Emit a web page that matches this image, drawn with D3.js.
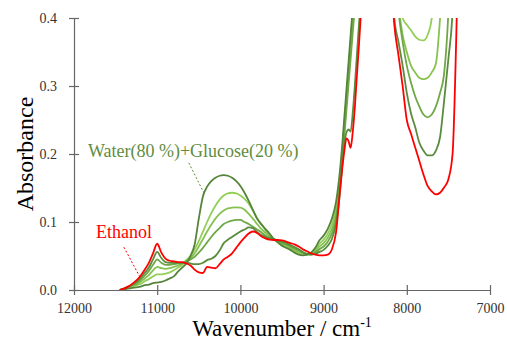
<!DOCTYPE html>
<html>
<head>
<meta charset="utf-8">
<script src="https://cdn.jsdelivr.net/npm/d3@7"></script>
<style>
  body { margin: 0; background: #fff; }
  .axis path, .axis line { stroke: #666; stroke-width: 1.2px; }
  .axis text { font-size: 14px; fill: #333; }
</style>
</head>
<body>
<div id="chart"></div>
<script>

var serif = "'Liberation Serif', 'Times New Roman', 'DejaVu Serif', serif";

// wavenumber grid (cm-1), shared by every spectrum
var wavenumber = [
  11450, 11400, 11350, 11300, 11250, 11200, 11150, 11100, 11050, 11000,
  10950, 10900, 10850, 10800, 10750, 10700, 10650, 10600, 10550, 10500,
  10450, 10400, 10350, 10300, 10250, 10200, 10150, 10100, 10050, 10000,
  9950, 9900, 9850, 9800, 9750, 9700, 9650, 9600, 9550, 9500,
  9450, 9400, 9350, 9300, 9250, 9200, 9150, 9100, 9050, 9000,
  8950, 8900, 8850, 8800,
  8775, 8750, 8725, 8700, 8675, 8650, 8625, 8600, 8575, 8550,
  8500, 8400, 8300, 8200,
  8150, 8100, 8050, 8000, 7950, 7900, 7850, 7800, 7750,
  7700, 7650, 7600, 7550, 7500, 7450, 7400, 7350
];

// Water(80 %)+Glucose(20 %)
var glucose = [
  0, 0.001, 0.002, 0.003, 0.004, 0.005, 0.007, 0.008, 0.010, 0.011,
  0.012, 0.014, 0.017, 0.020, 0.027, 0.033, 0.039, 0.050, 0.067, 0.105,
  0.138, 0.152, 0.160, 0.165, 0.168, 0.169, 0.168, 0.165, 0.160, 0.153,
  0.143, 0.131, 0.118, 0.105, 0.097, 0.090, 0.083, 0.075, 0.070, 0.065,
  0.062, 0.059, 0.055, 0.052, 0.051, 0.052, 0.055, 0.062, 0.073, 0.080,
  0.090, 0.105, 0.130, 0.180,
  0.215, 0.255, 0.295, 0.335, 0.375, 0.415, 0.455, 0.495, 0.535, 0.575,
  0.65, 0.8, 0.8, 0.7,
  0.60, 0.52, 0.47, 0.45, 0.44, 0.43, 0.425, 0.424, 0.43,
  0.44, 0.46, 0.48, 0.55, 0.70, 0.85, 1.0, 1.0
];

// intermediate mixtures, from glucose-rich to ethanol-rich
var mix1 = [
  0, 0.001, 0.003, 0.005, 0.007, 0.009, 0.013, 0.016, 0.020, 0.023,
  0.023, 0.024, 0.026, 0.029, 0.033, 0.037, 0.044, 0.050, 0.060, 0.072,
  0.086, 0.100, 0.113, 0.124, 0.133, 0.139, 0.142, 0.143, 0.142, 0.139,
  0.134, 0.127, 0.117, 0.106, 0.097, 0.088, 0.080, 0.075, 0.070, 0.066,
  0.063, 0.060, 0.057, 0.054, 0.053, 0.052, 0.054, 0.059, 0.068, 0.074,
  0.083, 0.097, 0.122, 0.172,
  0.205, 0.245, 0.285, 0.325, 0.365, 0.405, 0.445, 0.485, 0.525, 0.565,
  0.62, 0.75, 0.75, 0.65,
  0.55, 0.46, 0.40, 0.39, 0.382, 0.373, 0.368, 0.367, 0.375,
  0.40, 0.50, 0.60, 0.70, 0.80, 0.90, 1.0, 1.0
];

var mix2 = [
  0, 0.001, 0.003, 0.006, 0.008, 0.012, 0.017, 0.022, 0.029, 0.034,
  0.032, 0.031, 0.032, 0.034, 0.036, 0.039, 0.043, 0.047, 0.054, 0.064,
  0.075, 0.086, 0.096, 0.105, 0.112, 0.117, 0.120, 0.121, 0.1215, 0.121,
  0.118, 0.112, 0.105, 0.097, 0.090, 0.084, 0.079, 0.075, 0.071, 0.068,
  0.065, 0.062, 0.059, 0.056, 0.054, 0.052, 0.053, 0.057, 0.064, 0.069,
  0.077, 0.090, 0.114, 0.164,
  0.197, 0.237, 0.275, 0.315, 0.355, 0.395, 0.435, 0.475, 0.515, 0.555,
  0.60, 0.72, 0.72, 0.60,
  0.50, 0.42, 0.375, 0.350, 0.330, 0.320, 0.312, 0.310, 0.312,
  0.320, 0.333, 0.400, 0.50, 0.60, 0.70, 0.80, 0.90
];

var mix3 = [
  0, 0.002, 0.004, 0.007, 0.010, 0.015, 0.021, 0.028, 0.037, 0.045,
  0.040, 0.037, 0.037, 0.038, 0.039, 0.040, 0.042, 0.045, 0.049, 0.055,
  0.062, 0.070, 0.078, 0.085, 0.091, 0.097, 0.100, 0.102, 0.103, 0.103,
  0.100, 0.097, 0.093, 0.089, 0.085, 0.080, 0.077, 0.075, 0.072, 0.069,
  0.067, 0.064, 0.061, 0.058, 0.055, 0.053, 0.052, 0.055, 0.060, 0.064,
  0.071, 0.083, 0.106, 0.156,
  0.190, 0.228, 0.265, 0.303, 0.340, 0.378, 0.415, 0.455, 0.495, 0.535,
  0.58, 0.70, 0.70, 0.58,
  0.48, 0.41, 0.365, 0.330, 0.305, 0.285, 0.270, 0.258, 0.254,
  0.258, 0.270, 0.290, 0.320, 0.410, 0.60, 0.80, 0.90
];

var mix4 = [
  0, 0.002, 0.005, 0.008, 0.012, 0.018, 0.025, 0.033, 0.045, 0.056,
  0.047, 0.041, 0.040, 0.040, 0.040, 0.040, 0.040, 0.039, 0.038, 0.038,
  0.040, 0.044, 0.046, 0.050, 0.058, 0.069, 0.074, 0.078, 0.082, 0.086,
  0.089, 0.092, 0.091, 0.085, 0.081, 0.078, 0.076, 0.075, 0.073, 0.071,
  0.069, 0.066, 0.063, 0.060, 0.056, 0.053, 0.052, 0.053, 0.056, 0.059,
  0.065, 0.075, 0.098, 0.148,
  0.185, 0.215, 0.232, 0.236, 0.233, 0.260, 0.300, 0.345, 0.390, 0.430,
  0.55, 0.68, 0.68, 0.52,
  0.400, 0.365, 0.330, 0.290, 0.260, 0.240, 0.217, 0.205, 0.198,
  0.198, 0.205, 0.225, 0.280, 0.340, 0.410, 0.60, 0.80
];

// Ethanol
var ethanol = [
  0, 0.002, 0.005, 0.009, 0.014, 0.021, 0.030, 0.040, 0.054, 0.068,
  0.055, 0.046, 0.043, 0.042, 0.041, 0.041, 0.039, 0.036, 0.030, 0.026,
  0.025, 0.034, 0.033, 0.032, 0.038, 0.045, 0.049, 0.054, 0.062, 0.070,
  0.077, 0.083, 0.086, 0.084, 0.079, 0.076, 0.074, 0.0735, 0.0735, 0.073,
  0.071, 0.069, 0.067, 0.064, 0.060, 0.057, 0.054, 0.052, 0.051, 0.051,
  0.052, 0.060, 0.085, 0.150,
  0.180, 0.205, 0.223, 0.219, 0.209, 0.232, 0.268, 0.315, 0.360, 0.410,
  0.50, 0.65, 0.65, 0.48,
  0.390, 0.345, 0.300, 0.250, 0.230, 0.210, 0.190, 0.170, 0.153,
  0.145, 0.1405, 0.143, 0.151, 0.163, 0.200, 0.400, 0.700
];

var series = [
  { name: "mix1", values: mix1, color: "#93cf58" },
  { name: "mix2", values: mix2, color: "#86c24f" },
  { name: "mix3", values: mix3, color: "#6fa846" },
  { name: "mix4", values: mix4, color: "#5a8c3d" },
  { name: "glucose", values: glucose, color: "#55843a" },
  { name: "ethanol", values: ethanol, color: "#ff0000" }
];

var yTicks = [0, 0.1, 0.2, 0.3, 0.4];
var xTicks = [12000, 11000, 10000, 9000, 8000, 7000];

var width = 507, height = 340;
var svg = d3.select("#chart").append("svg")
    .attr("width", width)
    .attr("height", height);

var x = d3.scaleLinear().domain([12000, 7000]).range([74, 490]);
var y = d3.scaleLinear().domain([0, 0.4]).range([290, 18]);

svg.append("clipPath").attr("id", "plot")
  .append("rect")
    .attr("x", x(12000)).attr("y", y(0.4))
    .attr("width", x(7000) - x(12000))
    .attr("height", y(0) - y(0.4));

// axes, ticks crossing the line
var yAxis = svg.append("g")
    .attr("class", "axis")
    .attr("transform", "translate(" + x(12000) + ",0)")
    .call(d3.axisLeft(y).tickValues(yTicks).tickFormat(d3.format(".1f"))
      .tickSizeInner(5).tickSizeOuter(0).tickPadding(12));
yAxis.selectAll(".tick line").attr("x1", 5);

var xAxis = svg.append("g")
    .attr("class", "axis")
    .attr("transform", "translate(0," + y(0) + ")")
    .call(d3.axisBottom(x).tickValues(xTicks).tickFormat(d3.format("d"))
      .tickSizeInner(5).tickSizeOuter(0).tickPadding(8));
xAxis.selectAll(".tick line").attr("y1", -5);
svg.selectAll(".axis").attr("font-family", serif).attr("font-size", 14);

var line = d3.line()
    .x(function(d) { return x(d[0]); })
    .y(function(d) { return y(d[1]); })
    .curve(d3.curveMonotoneX);

svg.append("g")
    .attr("clip-path", "url(#plot)")
  .selectAll("path")
  .data(series)
  .enter().append("path")
    .attr("fill", "none")
    .attr("stroke", function(d) { return d.color; })
    .attr("stroke-width", 1.8)
    .attr("stroke-linejoin", "round")
    .attr("d", function(d) {
      return line(wavenumber.map(function(w, i) { return [w, d.values[i]]; }));
    });

// labels with dotted leader lines (positions in data units)
var labels = [
  { text: "Water(80 %)+Glucose(20 %)", color: "#5f8c3f", at: [11832, 0.1956],
    from: [10620, 0.187], to: [10440, 0.143] },
  { text: "Ethanol", color: "#ff0000", at: [11736, 0.0765],
    from: [11400, 0.063], to: [11208, 0.019] }
];

labels.forEach(function(l) {
  svg.append("line")
      .attr("x1", x(l.from[0])).attr("y1", y(l.from[1]))
      .attr("x2", x(l.to[0])).attr("y2", y(l.to[1]))
      .attr("stroke", l.color)
      .attr("stroke-width", 1)
      .attr("stroke-dasharray", "2,2");
  svg.append("text")
      .attr("x", x(l.at[0])).attr("y", y(l.at[1]))
      .attr("fill", l.color)
      .attr("font-family", serif)
      .attr("font-size", 18)
      .text(l.text);
});

// axis titles
svg.append("text")
    .attr("transform", "translate(33," + ((y(0) + y(0.4)) / 2) + ") rotate(-90)")
    .attr("text-anchor", "middle")
    .attr("fill", "#000")
    .attr("font-family", serif)
    .attr("font-size", 24)
    .text("Absorbance");

var xt = svg.append("text")
    .attr("x", (x(12000) + x(7000)) / 2)
    .attr("y", 336)
    .attr("text-anchor", "middle")
    .attr("fill", "#000")
    .attr("font-family", serif)
    .attr("font-size", 23);
xt.append("tspan").text("Wavenumber / cm");
xt.append("tspan").attr("dy", -9).attr("font-size", 14).text("-1");

</script>
</body>
</html>
